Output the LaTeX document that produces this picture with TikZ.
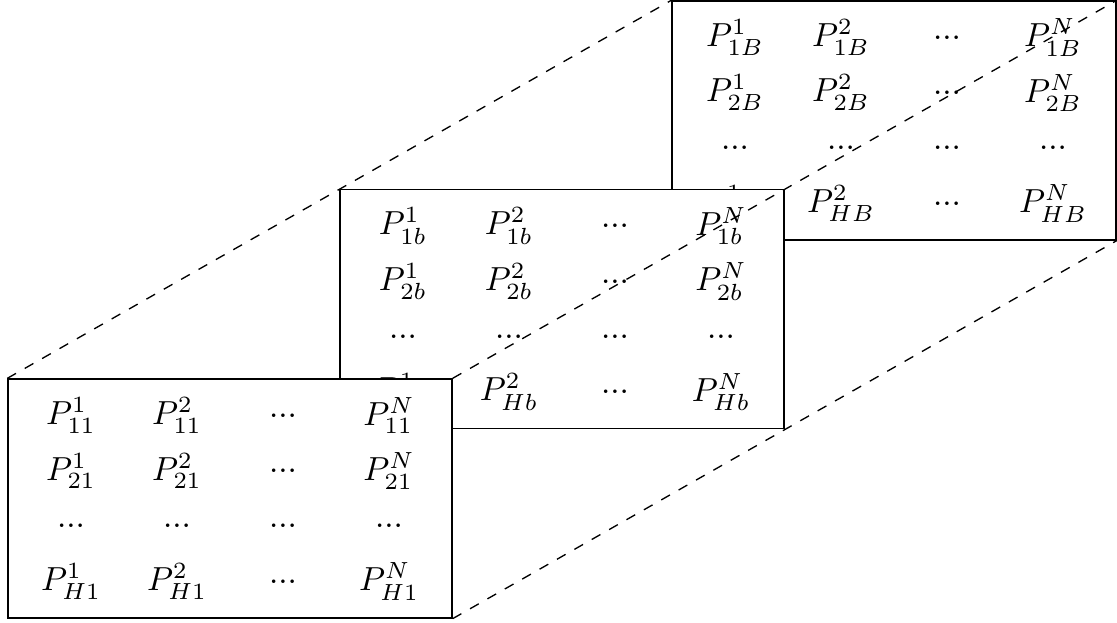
\documentclass[tikz,border=0pt]{standalone}
\newcommand\mymat[4]{% #1 name, #2 cx, #3 cy, #4 subscript suffix
  \node[matbox] (#1) at (#2,#3) {};
  \foreach \rw/\rs in {1/1#4,2/2#4,4/H#4}{
    \foreach \cl/\cs in {1/1,2/2,4/N}{
      \node[ent] (#1-\rw-\cl) at ({#2+(\cl-2.5)*106},{#3+(\rw-2.5)*55.3}) {$P^{\cs}_{\rs}$};
    }
    \node[ent] (#1-\rw-3) at ({#2+0.5*106},{#3+(\rw-2.5)*55.3}) {...};
  }
  \foreach \cl in {1,2,3,4}{
    \node[ent] (#1-3-\cl) at ({#2+(\cl-2.5)*106},{#3+0.5*55.3}) {...};
  }
}
\begin{document}
\begin{tikzpicture}[x=0.3pt,y=-0.3pt,
  matbox/.style={draw, fill=white, rectangle, minimum width=133.2pt, minimum height=71.7pt, inner sep=0pt, line width=0.4pt},
  ent/.style={inner sep=0pt},
  link/.style={dashed, line width=0.4pt}]
\useasboundingbox (0,0) rectangle (1117,623);
\mymat{back}{894}{120.5}{B}
\mymat{mid}{562}{309}{b}
\mymat{front}{230}{498.5}{1}
\draw[link] (front.north west) -- (back.north west);
\draw[link] (front.north east) -- (back.north east);
\draw[link] (front.south east) -- (back.south east);
\end{tikzpicture}
\end{document}
